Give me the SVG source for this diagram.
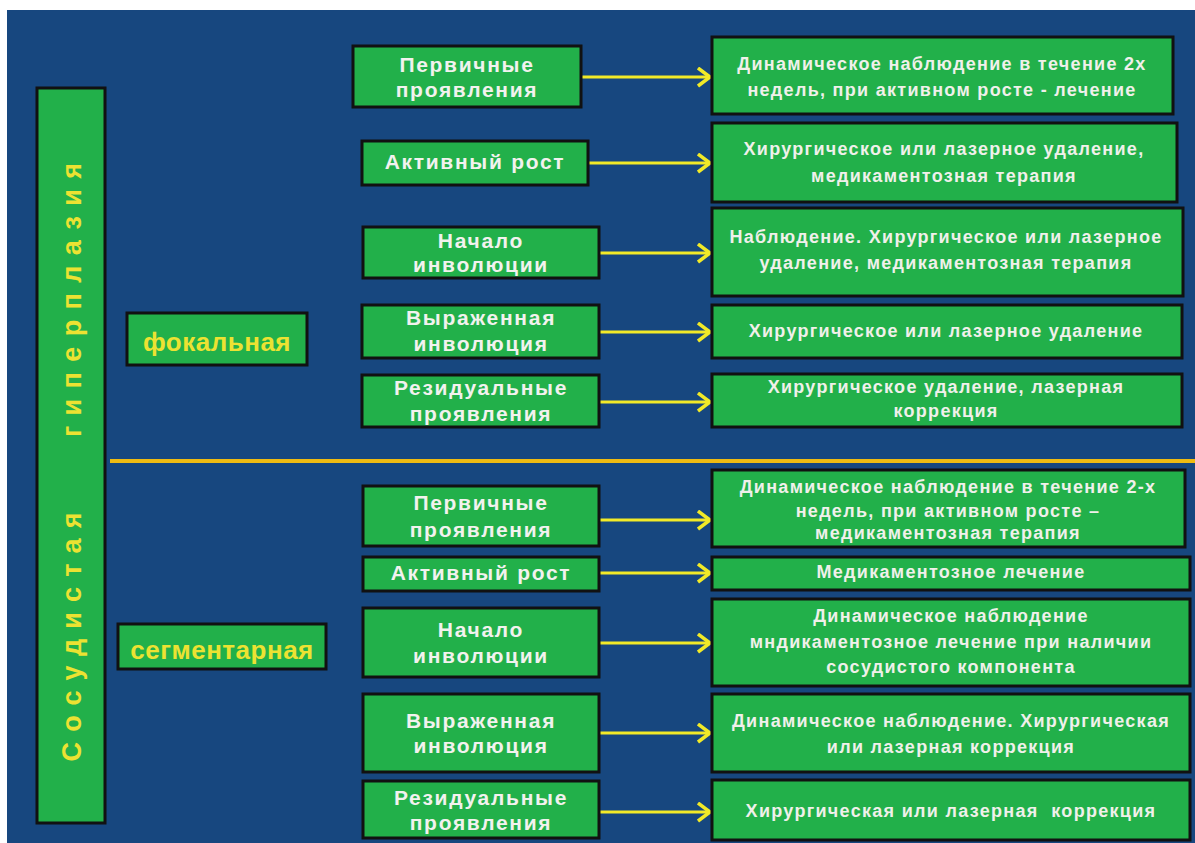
<svg xmlns="http://www.w3.org/2000/svg" width="1195" height="843" viewBox="0 0 1195 843">
<defs>
<style>
.box{fill:#22b04a;stroke:#111;stroke-width:3}
.mid{font-family:"Liberation Sans",Arial,sans-serif;font-weight:bold;font-size:21px;fill:#f2f2ee;text-anchor:middle;letter-spacing:1.7px}
.res{font-family:"Liberation Sans",Arial,sans-serif;font-weight:bold;font-size:18px;fill:#f0f0ea;text-anchor:middle;letter-spacing:1.3px}
.yel{font-family:"Liberation Sans",Arial,sans-serif;font-weight:bold;fill:#ece232;text-anchor:middle}
.arr{stroke:#f2ea28;stroke-width:3;fill:none;marker-end:url(#chev)}
</style>
<marker id="chev" markerUnits="userSpaceOnUse" markerWidth="16" markerHeight="22" refX="13" refY="10" orient="auto" viewBox="0 0 16 22">
<path d="M1,1 L13,10 L1,19" fill="none" stroke="#f2ea28" stroke-width="3.5"/>
</marker>
</defs>
<rect x="0" y="0" width="1195" height="843" fill="#ffffff"/>
<rect x="7" y="10" width="1188" height="833" fill="#17477f"/>
<line x1="110" y1="461" x2="1195" y2="461" stroke="#efbb12" stroke-width="4"/>

<g id="main">
<rect class="box" x="37" y="88" width="68" height="735"/>
<text class="yel" font-size="27" transform="translate(81,637) rotate(-90)" textLength="249" lengthAdjust="spacing">Сосудистая</text>
<text class="yel" font-size="27" transform="translate(81,300) rotate(-90)" textLength="274" lengthAdjust="spacing">гиперплазия</text>
</g>

<g id="focal">
<rect class="box" x="127" y="313" width="180" height="52"/>
<text class="yel" font-size="26" letter-spacing="0.5" x="217" y="351">фокальная</text>
</g>
<g id="segmental">
<rect class="box" x="118" y="624" width="208" height="45"/>
<text class="yel" font-size="26" letter-spacing="0.5" x="222" y="659">сегментарная</text>
</g>

<g id="connectors">
<line class="arr" x1="581" y1="77" x2="710" y2="77"/>
<line class="arr" x1="588" y1="163" x2="710" y2="163"/>
<line class="arr" x1="599" y1="253" x2="710" y2="253"/>
<line class="arr" x1="599" y1="332" x2="710" y2="332"/>
<line class="arr" x1="599" y1="402" x2="710" y2="402"/>
<line class="arr" x1="599" y1="520" x2="710" y2="520"/>
<line class="arr" x1="599" y1="573" x2="710" y2="573"/>
<line class="arr" x1="599" y1="643" x2="710" y2="643"/>
<line class="arr" x1="599" y1="733" x2="710" y2="733"/>
<line class="arr" x1="599" y1="812" x2="710" y2="812"/>
</g>

<g id="f-stage1"><rect class="box" x="353" y="46" width="228" height="61"/><text class="mid" x="467" y="72">Первичные</text><text class="mid" x="467" y="97">проявления</text></g>
<g id="f-stage2"><rect class="box" x="362" y="141" width="226" height="44"/><text class="mid" x="475" y="169">Активный рост</text></g>
<g id="f-stage3"><rect class="box" x="363" y="227" width="236" height="51"/><text class="mid" x="481" y="248">Начало</text><text class="mid" x="481" y="272">инволюции</text></g>
<g id="f-stage4"><rect class="box" x="362" y="305" width="237" height="53"/><text class="mid" x="481" y="325">Выраженная</text><text class="mid" x="481" y="351">инволюция</text></g>
<g id="f-stage5"><rect class="box" x="362" y="375" width="237" height="52"/><text class="mid" x="481" y="395">Резидуальные</text><text class="mid" x="481" y="421">проявления</text></g>

<g id="s-stage1"><rect class="box" x="363" y="486" width="236" height="60"/><text class="mid" x="481" y="510">Первичные</text><text class="mid" x="481" y="537">проявления</text></g>
<g id="s-stage2"><rect class="box" x="363" y="557" width="236" height="34"/><text class="mid" x="481" y="580">Активный рост</text></g>
<g id="s-stage3"><rect class="box" x="363" y="608" width="236" height="69"/><text class="mid" x="481" y="637">Начало</text><text class="mid" x="481" y="663">инволюции</text></g>
<g id="s-stage4"><rect class="box" x="363" y="694" width="236" height="78"/><text class="mid" x="481" y="728">Выраженная</text><text class="mid" x="481" y="753">инволюция</text></g>
<g id="s-stage5"><rect class="box" x="363" y="781" width="236" height="57"/><text class="mid" x="481" y="805">Резидуальные</text><text class="mid" x="481" y="830">проявления</text></g>

<g id="f-treat1"><rect class="box" x="712" y="37" width="461" height="77"/><text class="res" x="942" y="70">Динамическое наблюдение в течение 2х</text><text class="res" x="942" y="96">недель, при активном росте - лечение</text></g>
<g id="f-treat2"><rect class="box" x="712" y="123" width="465" height="79"/><text class="res" x="944" y="155">Хирургическое или лазерное удаление,</text><text class="res" x="944" y="182">медикаментозная терапия</text></g>
<g id="f-treat3"><rect class="box" x="712" y="208" width="471" height="88"/><text class="res" x="946" y="243">Наблюдение. Хирургическое или лазерное</text><text class="res" x="946" y="269">удаление, медикаментозная терапия</text></g>
<g id="f-treat4"><rect class="box" x="712" y="305" width="470" height="53"/><text class="res" x="946" y="337">Хирургическое или лазерное удаление</text></g>
<g id="f-treat5"><rect class="box" x="712" y="374" width="470" height="53"/><text class="res" x="946" y="393">Хирургическое удаление, лазерная</text><text class="res" x="946" y="417">коррекция</text></g>

<g id="s-treat1"><rect class="box" x="712" y="470" width="473" height="77"/><text class="res" x="948" y="493">Динамическое наблюдение в течение 2-х</text><text class="res" x="948" y="517">недель, при активном росте –</text><text class="res" x="948" y="539">медикаментозная терапия</text></g>
<g id="s-treat2"><rect class="box" x="712" y="557" width="478" height="33"/><text class="res" x="951" y="578">Медикаментозное лечение</text></g>
<g id="s-treat3"><rect class="box" x="712" y="599" width="478" height="87"/><text class="res" x="951" y="622">Динамическое наблюдение</text><text class="res" x="951" y="648">мндикаментозное лечение при наличии</text><text class="res" x="951" y="673">сосудистого компонента</text></g>
<g id="s-treat4"><rect class="box" x="712" y="694" width="478" height="78"/><text class="res" x="951" y="727">Динамическое наблюдение. Хирургическая</text><text class="res" x="951" y="753">или лазерная коррекция</text></g>
<g id="s-treat5"><rect class="box" x="712" y="780" width="478" height="60"/><text class="res" x="951" y="817" style="white-space:pre">Хирургическая или лазерная  коррекция</text></g>
</svg>
